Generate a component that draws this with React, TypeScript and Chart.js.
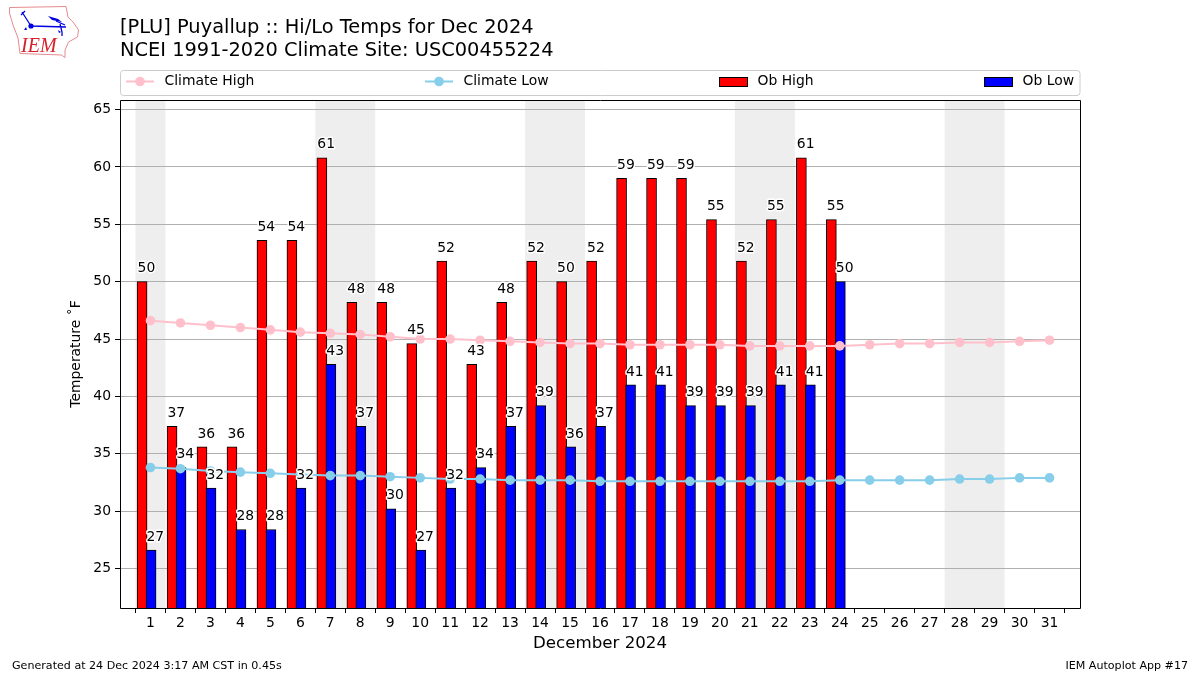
import React, { useEffect, useRef } from "react";
import { Chart, registerables } from "chart.js";

Chart.register(...registerables);

const FONT = '"DejaVu Sans"';

const days = [1,2,3,4,5,6,7,8,9,10,11,12,13,14,15,16,17,18,19,20,21,22,23,24,25,26,27,28,29,30,31];
const obHigh = [50,37.4,35.6,35.6,53.6,53.6,60.8,48.2,48.2,44.6,51.8,42.8,48.2,51.8,50,51.8,59,59,59,55.4,51.8,55.4,60.8,55.4];
const obLow = [26.6,33.8,32,28.4,28.4,32,42.8,37.4,30.2,26.6,32,33.8,37.4,39.2,35.6,37.4,41,41,39.2,39.2,39.2,41,41,50];
const climateHigh = [46.6,46.4,46.2,46.0,45.8,45.6,45.5,45.4,45.2,45.0,45.0,44.9,44.8,44.7,44.6,44.6,44.5,44.5,44.5,44.5,44.4,44.4,44.4,44.4,44.5,44.6,44.6,44.7,44.7,44.8,44.9];
const climateLow = [33.8,33.7,33.5,33.4,33.3,33.2,33.1,33.1,33.0,32.9,32.8,32.8,32.7,32.7,32.7,32.6,32.6,32.6,32.6,32.6,32.6,32.6,32.6,32.7,32.7,32.7,32.7,32.8,32.8,32.9,32.9];
const yTicks = [25,30,35,40,45,50,55,60,65];
const weekendSpans = [[0.5,1.5],[6.5,8.5],[13.5,15.5],[20.5,22.5],[27.5,29.5]];

const titleLines = ["[PLU] Puyallup :: Hi/Lo Temps for Dec 2024", "NCEI 1991-2020 Climate Site: USC00455224"];
const yLabel = "Temperature \u02DAF";
const xLabel = "December 2024";
const footerLeft = "Generated at 24 Dec 2024 3:17 AM CST in 0.45s";
const footerRight = "IEM Autoplot App #17";

const HIGH_OFFSET = -0.28;
const LOW_OFFSET = 0.02;
const LABEL_SHIFT = 4.3;

const bandsPlugin = {
  id: "bands",
  beforeDraw(chart: any) {
    const { ctx, chartArea, scales } = chart;
    ctx.save();
    ctx.fillStyle = "#eeeeee";
    weekendSpans.forEach(([a, b]) => {
      const x0 = scales.x.getPixelForValue(a);
      const x1 = scales.x.getPixelForValue(b);
      ctx.fillRect(x0, chartArea.top, x1 - x0, chartArea.bottom - chartArea.top);
    });
    ctx.restore();
  },
};

const overlayPlugin = {
  id: "overlay",
  afterDatasetsDraw(chart: any) {
    const { ctx, chartArea, scales } = chart;
    ctx.save();
    // value labels
    ctx.font = `13.9px ${FONT}`;
    ctx.textAlign = "center";
    ctx.textBaseline = "middle";
    ctx.lineJoin = "round";
    const put = (vals: number[], off: number) => {
      vals.forEach((v, i) => {
        const x = scales.x.getPixelForValue(days[i] + off) + LABEL_SHIFT;
        const y = scales.y.getPixelForValue(v) - 13;
        const s = String(Math.round(v));
        ctx.strokeStyle = "white";
        ctx.lineWidth = 3;
        ctx.strokeText(s, x, y);
        ctx.fillStyle = "black";
        ctx.fillText(s, x, y);
      });
    };
    put(obHigh, HIGH_OFFSET);
    put(obLow, LOW_OFFSET);
    // frame
    ctx.strokeStyle = "black";
    ctx.lineWidth = 1;
    ctx.strokeRect(chartArea.left + 0.5, chartArea.top + 0.5, chartArea.right - chartArea.left, chartArea.bottom - chartArea.top);
    ctx.restore();
  },
  afterDraw(chart: any) {
    const { ctx, data } = chart;
    ctx.save();
    // legend
    const lx = 120.5, ly = 70.5, lw = 959.5, lh = 25, r = 3;
    ctx.beginPath();
    ctx.roundRect(lx, ly, lw, lh, r);
    ctx.fillStyle = "white";
    ctx.fill();
    ctx.strokeStyle = "#cccccc";
    ctx.lineWidth = 1;
    ctx.stroke();
    const handles = [126, 425, 719, 984];
    const cy = 81.5;
    ctx.font = `13.9px ${FONT}`;
    ctx.textBaseline = "middle";
    ctx.textAlign = "left";
    data.datasets.forEach((ds: any, i: number) => {
      const hx = handles[i];
      if (ds.type === "line") {
        ctx.strokeStyle = ds.borderColor;
        ctx.lineWidth = 2;
        ctx.beginPath();
        ctx.moveTo(hx, cy);
        ctx.lineTo(hx + 28, cy);
        ctx.stroke();
        ctx.fillStyle = ds.borderColor;
        ctx.beginPath();
        ctx.arc(hx + 14, cy, 4.8, 0, Math.PI * 2);
        ctx.fill();
      } else {
        ctx.fillStyle = ds.backgroundColor;
        ctx.fillRect(hx, 77, 28, 9.5);
        ctx.strokeStyle = "black";
        ctx.lineWidth = 1;
        ctx.strokeRect(hx + 0.5, 77.5, 28, 9);
      }
      ctx.fillStyle = "black";
      ctx.fillText(ds.label, hx + 38.5, cy);
    });
    // footer
    ctx.font = `11.1px ${FONT}`;
    ctx.fillStyle = "black";
    ctx.fillText(footerLeft, 12, 666);
    ctx.textAlign = "right";
    ctx.fillText(footerRight, 1188, 666);
    ctx.restore();
  },
};

function Logo() {
  return (
    <svg width={90} height={62} viewBox="0 0 90 62" style={{ position: "absolute", left: 0, top: 0 }} aria-label="IEM logo">
      <path d="M9.5 7.5 L66 6.5 L68 17 L73 22 L78.5 30 L77.5 37 L68.5 42 L65 50 L65 57.5 L61.5 55 L20 53.5 L18 38 L13 25 L9.5 13 Z" fill="white" stroke="#e58a8f" strokeWidth={1} />
      <path d="M31 26 L66 27 M22 12 L31 26 M25 11 L21 15 M56 21 L65 25 M60 24 L62 32 L62 36" stroke="#0000e0" strokeWidth={1.3} fill="none" />
      <circle cx={31} cy={26} r={2.6} fill="#0000e0" />
      <path d="M48 16 L58 19 L62 22 L52 20 Z" fill="#0000e0" />
      <path d="M24 30 L26 27 L27 30 Z M58 30 L61 32 L59 33 Z" fill="#0000e0" />
      <text x={21} y={52} fontFamily='"Liberation Serif"' fontStyle="italic" fontSize={20} fill="#d8202a">IEM</text>
    </svg>
  );
}

export default function App() {
  const ref = useRef<HTMLCanvasElement>(null);
  useEffect(() => {
    const chart = new Chart(ref.current as HTMLCanvasElement, {
      type: "bar",
      data: {
        datasets: [
          { type: "line", label: "Climate High", data: days.map((d, i) => ({ x: d, y: climateHigh[i] })), borderColor: "#ffc0cb", backgroundColor: "#ffc0cb", borderWidth: 2, pointRadius: 4.8, pointBackgroundColor: "#ffc0cb", pointBorderWidth: 0, order: 1 },
          { type: "line", label: "Climate Low", data: days.map((d, i) => ({ x: d, y: climateLow[i] })), borderColor: "#87ceeb", backgroundColor: "#87ceeb", borderWidth: 2, pointRadius: 4.8, pointBackgroundColor: "#87ceeb", pointBorderWidth: 0, order: 0 },
          { type: "bar", label: "Ob High", data: obHigh.map((v, i) => ({ x: days[i] + HIGH_OFFSET, y: v })), backgroundColor: "#ff0000", borderColor: "#000000", borderWidth: 1, barThickness: 10, grouped: false, order: 3 },
          { type: "bar", label: "Ob Low", data: obLow.map((v, i) => ({ x: days[i] + LOW_OFFSET, y: v })), backgroundColor: "#0000ff", borderColor: "#000000", borderWidth: 1, barThickness: 10, grouped: false, order: 2 },
        ],
      } as any,
      plugins: [bandsPlugin, overlayPlugin],
      options: {
        responsive: false,
        animation: false,
        devicePixelRatio: 1,
        layout: { padding: { left: 0, right: 120, top: 17, bottom: 0 } },
        plugins: {
          legend: { display: false },
          tooltip: { enabled: false },
          title: {
            display: true,
            text: titleLines,
            align: "start",
            fullSize: false,
            color: "black",
            font: { family: FONT, size: 19.4, weight: "normal", lineHeight: 1.16 },
            padding: { top: 0, bottom: 38 },
          },
        },
        scales: {
          x: {
            type: "linear",
            min: 0.5,
            max: 31.5,
            afterBuildTicks: (s: any) => { s.ticks = days.map((v) => ({ value: v })); },
            afterFit: (s: any) => { s.height = 67; },
            grid: { display: true, drawOnChartArea: false, drawTicks: true, tickLength: 5, tickColor: "black", tickWidth: 1 },
            border: { display: false },
            ticks: { color: "black", font: { family: FONT, size: 13.9 }, padding: 2, autoSkip: false, maxRotation: 0, callback: (v: any) => String(v) },
            title: { display: true, text: xLabel, color: "black", font: { family: FONT, size: 16.67 }, padding: { top: 0, bottom: 21 } },
          },
          y: {
            type: "linear",
            min: 21.56,
            max: 65.83,
            afterBuildTicks: (s: any) => { s.ticks = yTicks.map((v) => ({ value: v })); },
            afterFit: (s: any) => { s.width = 120; },
            grid: { display: true, color: "#b0b0b0", lineWidth: 1, tickColor: "black", tickLength: 5 },
            border: { display: false },
            ticks: { color: "black", font: { family: FONT, size: 13.9 }, padding: 4, callback: (v: any) => String(v) },
            title: { display: true, text: yLabel, color: "black", font: { family: FONT, size: 13.9 }, padding: { top: 68, bottom: 68 } },
          },
        },
      } as any,
    });
    return () => chart.destroy();
  }, []);
  return (
    <div style={{ position: "absolute", left: 0, top: 0, width: 1200, height: 675, background: "white" }}>
      <canvas ref={ref} width={1200} height={675} style={{ position: "absolute", left: 0, top: 0 }} />
      <Logo />
    </div>
  );
}
